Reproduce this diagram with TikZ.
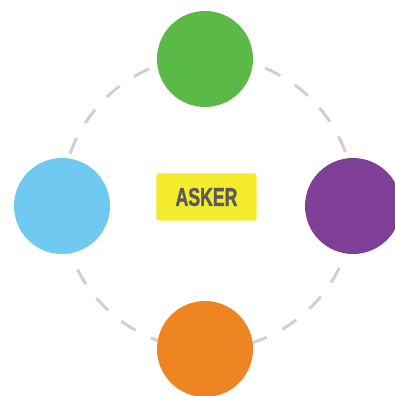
\documentclass[tikz,border=0pt]{standalone}
\usepackage{fontspec}
\usepackage{graphicx}
\setmainfont{Liberation Sans}
\newfontfamily\askfont{Liberation Sans}[BoldFeatures={FakeBold=1.6}]

\definecolor{bubgreen}{HTML}{5BBA47}
\definecolor{bubblue}{HTML}{6FC9F1}
\definecolor{bubpurple}{HTML}{7F3F97}
\definecolor{buborange}{HTML}{EE8522}
\definecolor{askyellow}{HTML}{F3EB2B}
\definecolor{asktext}{HTML}{5A5A5C}
\definecolor{ringgray}{HTML}{D0D0D0}

\begin{document}
\begin{tikzpicture}[x=1pt, y=-1pt,
    bubble/.style={circle, minimum size=96pt, inner sep=0pt},
    askbox/.style={fill=askyellow, rounded corners=3pt, minimum width=100.4pt,
      minimum height=47.4pt, inner sep=0pt, text=asktext,
      font=\askfont\bfseries\fontsize{25.6}{30}\selectfont},
    ring/.style={ringgray, line width=3pt, dash pattern=on 17pt off 17.09pt}]
  \clip (0,0) rectangle (395,396);
  % dashed ring behind the four circles
  \coordinate (ringc) at (208,203);
  \draw[ring] (ringc) ++(-20.4:146.5) arc[start angle=-20.4, delta angle=-360, radius=146.5];
  \node[bubble, fill=bubgreen] (top) at (205,59) {};
  \node[bubble, fill=bubblue] (left) at (62,206) {};
  \node[bubble, fill=bubpurple] (right) at (353,206) {};
  \node[bubble, fill=buborange] (bottom) at (205,349) {};
  \node[askbox] (asker) at (206.5,197) {\scalebox{0.69}[1]{ASKER}};
\end{tikzpicture}
\end{document}
